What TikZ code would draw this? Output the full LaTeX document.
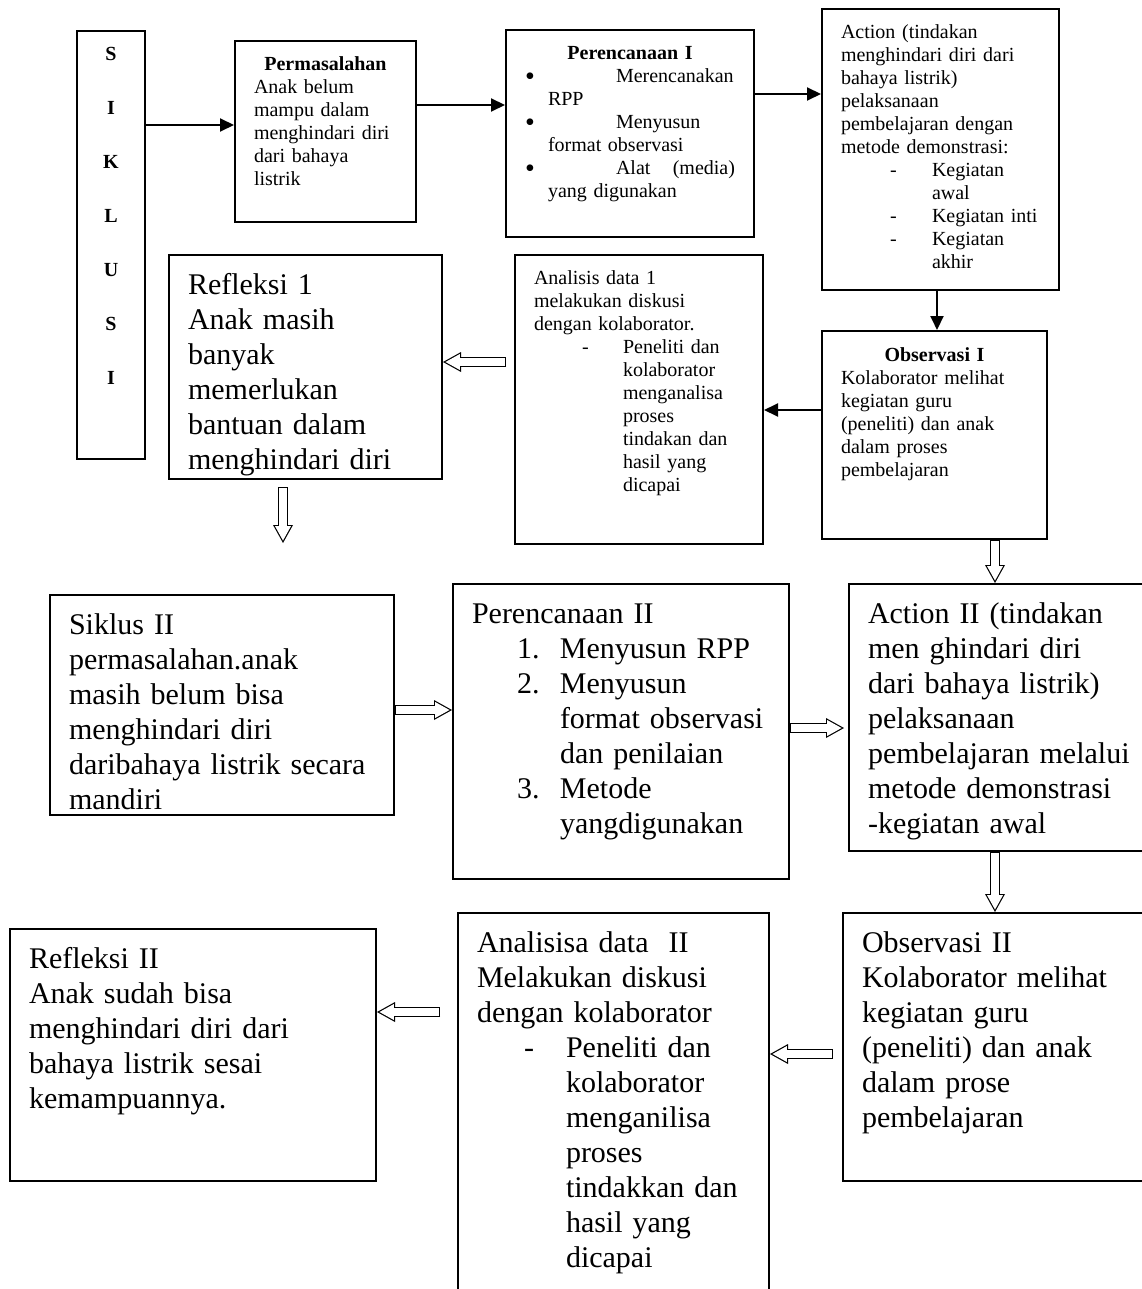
\documentclass[tikz,border=0pt]{standalone}
\usepackage{fontspec}
\setmainfont{Liberation Serif}
\usetikzlibrary{arrows.meta}

% outlined block arrow: black body, white core
\newcommand{\hollowarrow}[2]{%
  \draw[hollowout] #1 -- #2;
  \draw[hollowin] #1 -- #2;}
\newcommand{\bigbullet}{\raisebox{-1.2pt}{\fontsize{14}{11.5}\selectfont\textbullet}}

\begin{document}
\begin{tikzpicture}[x=0.5pt, y=-0.5pt, line width=1pt,
    box/.style={draw, anchor=north west, inner xsep=9.5pt, inner ysep=0pt, align=left},
    smalltxt/.style={box, font=\fontsize{10}{11.5}\selectfont, text height=15pt},
    bigtxt/.style={box, font=\fontsize{15}{17.5}\selectfont, text height=19.5pt},
    arr/.style={-{Triangle[length=7pt,width=6.5pt]}},
    hollowout/.style={line width=4.75pt, -{Triangle[length=9pt,width=10pt,line width=0pt]}},
    hollowin/.style={white, line width=3.55pt, shorten <=0.6pt, shorten >=1.24pt,
      -{Triangle[length=7.16pt,width=7.96pt,line width=0pt]}}]

  \useasboundingbox (0,0) rectangle (1141,1289);

  % Siklus I
  \node[smalltxt, text width=15pt, text depth=199pt, align=center,
        font=\fontsize{10}{27}\selectfont\bfseries] (siklus) at (76,30) {S\\I\\K\\L\\U\\S\\I};
  \node[smalltxt, text width=71.5pt, text depth=75.5pt] (perm) at (234,40)
    {\makebox[\linewidth]{\textbf{Permasalahan}}\\Anak belum\\mampu dalam\\menghindari diri\\dari bahaya\\listrik};
  \node[smalltxt, text width=105pt, text depth=88.5pt] (per1) at (505,29)
    {\makebox[\linewidth]{\textbf{Perencanaan I}}\\
     \makebox[45.5pt][l]{\bigbullet}Merencanakan\\
     \hspace*{11.5pt}RPP\\
     \makebox[45.5pt][l]{\bigbullet}Menyusun\\
     \hspace*{11.5pt}format observasi\\
     \makebox[45.5pt][l]{\bigbullet}Alat\hfill(media)\\
     \hspace*{11.5pt}yang digunakan};
  \node[smalltxt, text width=99.5pt, text depth=125.5pt] (act1) at (821,8)
    {Action (tindakan\\menghindari diri dari\\bahaya listrik)\\pelaksanaan\\pembelajaran dengan\\metode demonstrasi:\\
     \hspace*{24.5pt}\makebox[21pt][l]{-}Kegiatan\\
     \hspace*{45.5pt}awal\\
     \hspace*{24.5pt}\makebox[21pt][l]{-}Kegiatan inti\\
     \hspace*{24.5pt}\makebox[21pt][l]{-}Kegiatan\\
     \hspace*{45.5pt}akhir};
  \node[bigtxt, text width=117.5pt, text depth=92.5pt] (ref1) at (168,254)
    {Refleksi 1\\Anak masih\\banyak\\memerlukan\\bantuan dalam\\menghindari diri};
  \node[smalltxt, text width=105pt, text depth=129.5pt] (ana1) at (514,254)
    {Analisis data 1\\melakukan diskusi\\dengan kolaborator.\\
     \hspace*{24pt}\makebox[20.5pt][l]{-}Peneliti dan\\
     \hspace*{44.5pt}kolaborator\\ \hspace*{44.5pt}menganalisa\\ \hspace*{44.5pt}proses\\
     \hspace*{44.5pt}tindakan dan\\ \hspace*{44.5pt}hasil yang\\ \hspace*{44.5pt}dicapai};
  \node[smalltxt, text width=93.5pt, text depth=89pt] (obs1) at (821,330)
    {\makebox[\linewidth]{\textbf{Observasi I}}\\Kolaborator melihat\\kegiatan guru\\(peneliti) dan anak\\dalam proses\\pembelajaran};

  % Siklus II
  \node[bigtxt, text width=153pt, text depth=90.5pt] (sik2) at (49,594)
    {Siklus II\\permasalahan.anak\\masih belum bisa\\menghindari diri\\daribahaya listrik secara\\mandiri};
  \node[bigtxt, text width=149pt, text depth=128pt] (per2) at (452,583)
    {Perencanaan II\\
     \hspace*{22.5pt}\makebox[21.5pt][l]{1.}Menyusun RPP\\
     \hspace*{22.5pt}\makebox[21.5pt][l]{2.}Menyusun\\
     \hspace*{44pt}format observasi\\
     \hspace*{44pt}dan penilaian\\
     \hspace*{22.5pt}\makebox[21.5pt][l]{3.}Metode\\
     \hspace*{44pt}yangdigunakan};
  \node[bigtxt, text width=132pt, text depth=114pt] (act2) at (848,583)
    {Action II (tindakan\\men ghindari diri\\dari bahaya listrik)\\pelaksanaan\\pembelajaran melalui\\metode demonstrasi\\-kegiatan awal};
  \node[bigtxt, text width=164pt, text depth=106.5pt] (ref2) at (9,928)
    {Refleksi II\\Anak sudah bisa\\menghindari diri dari\\bahaya listrik sesai\\kemampuannya.};
  \node[bigtxt, text width=136.5pt, text depth=174.5pt] (ana2) at (457,912)
    {Analisisa data\ \ II\\Melakukan diskusi\\dengan kolaborator\\
     \hspace*{23.5pt}\makebox[21pt][l]{-}Peneliti dan\\
     \hspace*{44.5pt}kolaborator\\ \hspace*{44.5pt}menganilisa\\ \hspace*{44.5pt}proses\\
     \hspace*{44.5pt}tindakkan dan\\ \hspace*{44.5pt}hasil yang\\ \hspace*{44.5pt}dicapai};
  \node[bigtxt, text width=135pt, text depth=114.5pt] (obs2) at (842,912)
    {Observasi II\\Kolaborator melihat\\kegiatan guru\\(peneliti) dan anak\\dalam prose\\pembelajaran};

  % helper coordinates for the connectors
  \coordinate (y1) at (0,125);
  \coordinate (y2) at (0,105);
  \coordinate (y3) at (0,94);
  \coordinate (x4) at (937,0);
  \coordinate (y5) at (0,410);
  \coordinate (t1) at (506,362);
  \coordinate (t2) at (283,487);
  \coordinate (r1end) at (283,543);
  \coordinate (x6) at (995,0);
  \coordinate (y7) at (0,710);
  \coordinate (t3) at (844,728);
  \coordinate (t4) at (833,1054);
  \coordinate (t5) at (440,1012);

  % solid arrows
  \draw[arr] (y1 -| siklus.east) -- (y1 -| perm.west);
  \draw[arr] (y2 -| perm.east) -- (y2 -| per1.west);
  \draw[arr] (y3 -| per1.east) -- (y3 -| act1.west);
  \draw[arr] (x4 |- act1.south) -- (x4 |- obs1.north);
  \draw[arr] (y5 -| obs1.west) -- (y5 -| ana1.east);

  % block arrows
  \hollowarrow{(t1)}{(t1 -| ref1.east)}
  \hollowarrow{(t2)}{(r1end)}
  \hollowarrow{(x6 |- obs1.south)}{(x6 |- act2.north)}
  \hollowarrow{(y7 -| sik2.east)}{(y7 -| per2.west)}
  \hollowarrow{(t3 -| per2.east)}{(t3)}
  \hollowarrow{(x6 |- act2.south)}{(x6 |- obs2.north)}
  \hollowarrow{(t4)}{(t4 -| ana2.east)}
  \hollowarrow{(t5)}{(t5 -| ref2.east)}
\end{tikzpicture}
\end{document}
